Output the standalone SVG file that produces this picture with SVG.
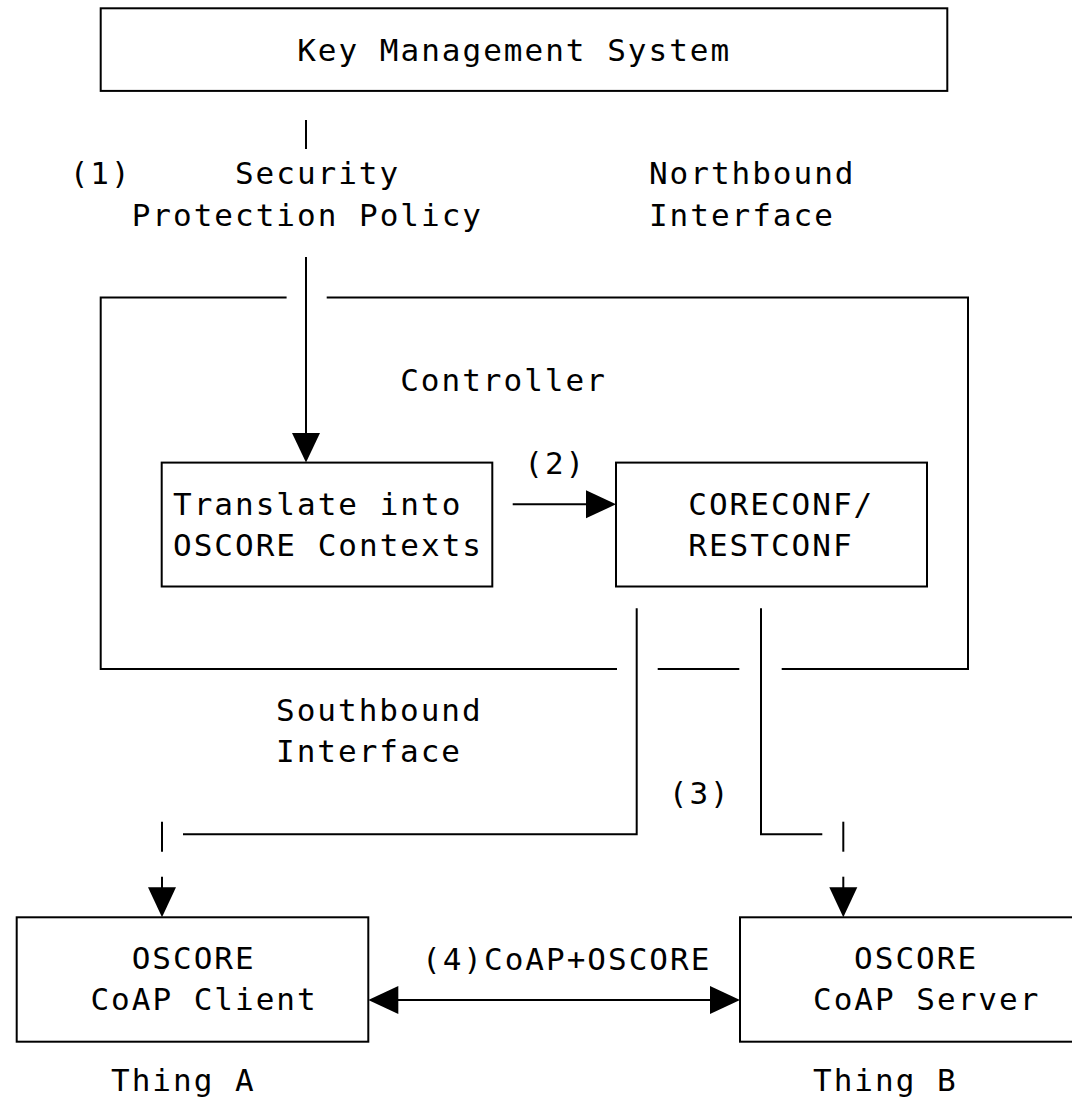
<svg xmlns="http://www.w3.org/2000/svg" width="1072" height="1101" viewBox="0 0 1072 1101">
  <style>
    .box { fill: none; stroke: #000; stroke-width: 2; }
    .ln { fill: none; stroke: #000; stroke-width: 2; }
    .ah { fill: #000; stroke: none; }
    text { font-family: "DejaVu Sans Mono", "Liberation Mono", monospace; font-size: 31px; letter-spacing: 2px; fill: #000; }
  </style>
  <rect width="1072" height="1101" fill="#fff"/>

  <g id="kms">
    <rect class="box" x="100.7" y="8.3" width="846.6" height="82.6"/>
    <text x="297.2" y="60.6">Key Management System</text>
  </g>

  <g id="policy-label">
    <text x="69.7" y="184">(1)</text>
    <text x="234.9" y="184">Security</text>
    <text x="131.7" y="225.5">Protection Policy</text>
  </g>

  <g id="northbound-label">
    <text x="648.9" y="184">Northbound</text>
    <text x="648.9" y="225.5">Interface</text>
  </g>

  <g id="controller">
    <path class="box" d="M286.6,297.4 H100.7 V669.1 H617 M657.7,669.1 H739.3 M781.7,669.1 H968 V297.4 H326.7"/>
    <text x="400.2" y="391">Controller</text>
  </g>

  <g id="translate">
    <rect class="box" x="161.7" y="462.6" width="330.6" height="123.9"/>
    <text x="173" y="515">Translate into</text>
    <text x="173" y="556.3">OSCORE Contexts</text>
  </g>

  <g id="coreconf">
    <rect class="box" x="616" y="462.6" width="311" height="123.9"/>
    <text x="688.3" y="515">CORECONF/</text>
    <text x="688.3" y="556.3">RESTCONF</text>
  </g>

  <g id="southbound-label">
    <text x="276" y="721">Southbound</text>
    <text x="276" y="762.3">Interface</text>
  </g>

  <g id="client">
    <rect class="box" x="16.7" y="917.3" width="351.6" height="124.4"/>
    <text x="131.7" y="969.3">OSCORE</text>
    <text x="90.4" y="1010.3">CoAP Client</text>
    <text x="111" y="1091">Thing A</text>
  </g>

  <g id="server">
    <rect class="box" x="740" y="917.3" width="352" height="124.4"/>
    <text x="854.1" y="969.3">OSCORE</text>
    <text x="813" y="1010.3">CoAP Server</text>
    <text x="813" y="1091">Thing B</text>
  </g>

  <g id="connectors">
    <!-- (1) KMS to Translate -->
    <line class="ln" x1="306" y1="120" x2="306" y2="149"/>
    <line class="ln" x1="306" y1="257" x2="306" y2="436"/>
    <polygon class="ah" points="306,462.6 292,433 320,433"/>

    <!-- (2) Translate to CORECONF -->
    <text x="524.3" y="473.6">(2)</text>
    <line class="ln" x1="512.7" y1="504.3" x2="589" y2="504.3"/>
    <polygon class="ah" points="616,504.3 586,490.3 586,518.3"/>

    <!-- (3) CORECONF to Things -->
    <text x="668.8" y="803.6">(3)</text>
    <path class="ln" d="M636.7,608.3 V834.3 H183"/>
    <path class="ln" d="M761,608.3 V834.3 H822.3"/>
    <line class="ln" x1="162" y1="821.7" x2="162" y2="851.7"/>
    <line class="ln" x1="843.3" y1="821.7" x2="843.3" y2="851.7"/>
    <line class="ln" x1="162" y1="876.7" x2="162" y2="890"/>
    <polygon class="ah" points="162,917.3 148,887.3 176,887.3"/>
    <line class="ln" x1="843.3" y1="876.7" x2="843.3" y2="890"/>
    <polygon class="ah" points="843.3,917.3 829.3,887.3 857.3,887.3"/>

    <!-- (4) CoAP+OSCORE -->
    <text x="422" y="970">(4)CoAP+OSCORE</text>
    <line class="ln" x1="395" y1="1000" x2="713" y2="1000"/>
    <polygon class="ah" points="368.3,1000 398.3,986 398.3,1014"/>
    <polygon class="ah" points="740,1000 710,986 710,1014"/>
  </g>
</svg>
